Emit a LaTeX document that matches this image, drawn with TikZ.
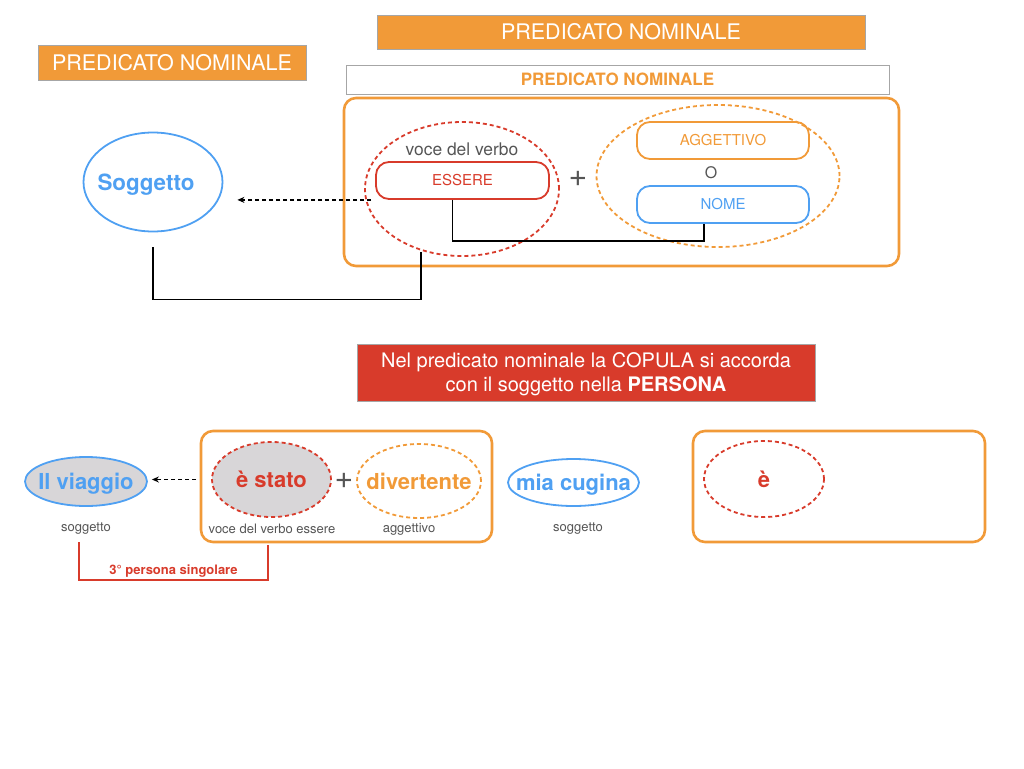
\documentclass[tikz,border=0pt]{standalone}
\usepackage{fontspec}
\setmainfont{TeX Gyre Heros}
\usetikzlibrary{arrows.meta,shapes.geometric}
\definecolor{arancio}{HTML}{F19A38}
\definecolor{blu}{HTML}{4FA0F2}
\definecolor{rosso}{HTML}{D83B2B}
\definecolor{grigio}{HTML}{555555}
\definecolor{grigiochiaro}{HTML}{D8D6D8}
\newcommand{\fs}[1]{\fontsize{#1}{#1}\selectfont}
\newcommand{\dentro}[1]{\makebox[0pt]{#1}}

\begin{document}
\begin{tikzpicture}[x=1pt,y=-1pt]
\tikzstyle{titolo}=[draw=gray!70,fill=arancio,text=white,inner sep=0pt,font=\fs{21.5}]
\tikzstyle{cornice}=[draw=arancio,line width=2.6pt,rounded corners=12pt,inner sep=0pt]
\tikzstyle{casella}=[draw,line width=1.8pt,rounded corners=13pt,inner sep=0pt,minimum width=172pt,minimum height=37pt,font=\fs{15}]
\tikzstyle{ovale}=[ellipse,inner sep=0pt,line width=1.8pt,text depth=0pt]
\tikzstyle{tratteggio}=[dash pattern=on 4pt off 3pt]
\tikzstyle{piccolo}=[text=grigio,font=\fs{13}]
\tikzstyle{freccia}=[-{Stealth[length=7pt,width=6pt]},line width=1.6pt,dash pattern=on 4pt off 3pt]
\useasboundingbox (0,0) rectangle (1024,768);

% titoli
\node[style={titolo,minimum width=488pt,minimum height=34pt}] (t1) at (621,32) {PREDICATO NOMINALE};
\node[style={titolo,minimum width=268pt,minimum height=35pt}] (t2) at (172,62.5) {PREDICATO NOMINALE};
\node[style={draw=gray!70,fill=white,inner sep=0pt,minimum width=543pt,minimum height=29pt,text=arancio,font=\bfseries\fs{17}}] (t3) at (617.5,79.5) {PREDICATO NOMINALE};

% schema in alto
\node[style={cornice,minimum width=555pt,minimum height=168pt}] (pn) at (621.5,182) {};
\node[style={ovale,draw=rosso,tratteggio,minimum width=194pt,minimum height=134pt}] (verbo) at (462,189) {};
\node[style={ovale,draw=arancio,tratteggio,minimum width=243pt,minimum height=142pt}] (nomi) at (718,176) {};
\node[style={text=grigio,font=\fs{17.4}}] (voce) at (462,149) {voce del verbo};
\node[style={casella,draw=rosso,text=rosso,minimum width=173pt}] (essere) at (462.5,180.5) {ESSERE};
\node[style={text=grigio,font=\fs{32}}] (piu1) at (578,179) {+};
\node[style={casella,draw=arancio,text=arancio}] (agg) at (723,140.5) {AGGETTIVO};
\node[style={text=grigio,font=\fs{16}}] (o) at (711,173) {O};
\node[style={casella,draw=blu,text=blu}] (nome) at (723,204.5) {NOME};
\node[style={ovale,draw=blu,minimum width=139pt,minimum height=99pt,text=blu,font=\bfseries\fs{22.4}}] (sogg) at (153,182) {\dentro{\kern-14pt Soggetto}};
\coordinate (cop) at (421,252);

\draw[line width=1.8pt] ([xshift=-10pt]essere.south) -- ++(0,41) -| ([xshift=-19pt]nome.south);
\draw[line width=1.8pt] ([yshift=-15pt]sogg.south) -- ++(0,52) -| (cop);
\draw[freccia,shorten >=14pt] ([xshift=-4pt]essere.south west) -- (sogg.east |- essere.south west);

% avviso
\node[style={draw=gray!70,fill=rosso,text=white,inner sep=0pt,minimum width=458pt,minimum height=57pt,align=center,text depth=0pt,font=\fontsize{20}{24}\selectfont}] (avviso) at (586,372.5) {Nel predicato nominale la COPULA si accorda\\con il soggetto nella \textbf{PERSONA}};

% esempio
\node[style={cornice,minimum width=291pt,minimum height=111pt}] (es1) at (346.5,486.5) {};
\node[style={cornice,minimum width=292pt,minimum height=111pt}] (es2) at (839,486.5) {};
\node[style={ovale,draw=blu,fill=grigiochiaro,minimum width=122pt,minimum height=49pt,text=blu,font=\bfseries\fs{22}}] (viaggio) at (86,481.5) {\dentro{Il viaggio}};
\node[style={ovale,draw=rosso,tratteggio,fill=grigiochiaro,minimum width=119pt,minimum height=75pt,text=rosso,font=\bfseries\fs{22}}] (estato) at (271.5,479.5) {\dentro{è stato}};
\node[style={text=grigio,font=\fs{32}}] (piu2) at (344,481) {+};
\node[style={ovale,draw=arancio,tratteggio,minimum width=124pt,minimum height=74pt,text=arancio,font=\bfseries\fs{22}}] (divert) at (419,481) {\dentro{divertente}};
\node[style={ovale,draw=blu,minimum width=131pt,minimum height=47pt,text=blu,font=\bfseries\fs{22}}] (cugina) at (573.5,482.5) {\dentro{mia cugina}};
\node[style={ovale,draw=rosso,tratteggio,minimum width=120pt,minimum height=76pt,text=rosso,font=\bfseries\fs{22}}] (e) at (764,479) {\dentro{è}};

\node[style=piccolo] (l1) at (86,529) {soggetto};
\node[style=piccolo] (l2) at (272,529) {voce del verbo essere};
\node[style=piccolo] (l3) at (409,529) {aggettivo};
\node[style=piccolo] (l4) at (578,529) {soggetto};

\draw[freccia,shorten >=4pt] ([xshift=-15pt]estato.west) -- (viaggio.east |- estato.west);
\coordinate (p1) at (79,542);
\coordinate (p2) at (268,545);
\draw[rosso,line width=1.5pt] (p1) -- ++(0,38) -| (p2) node[pos=0.25,above=-1pt,text=rosso,font=\bfseries\fs{13}] {3° persona singolare};
\end{tikzpicture}
\end{document}
